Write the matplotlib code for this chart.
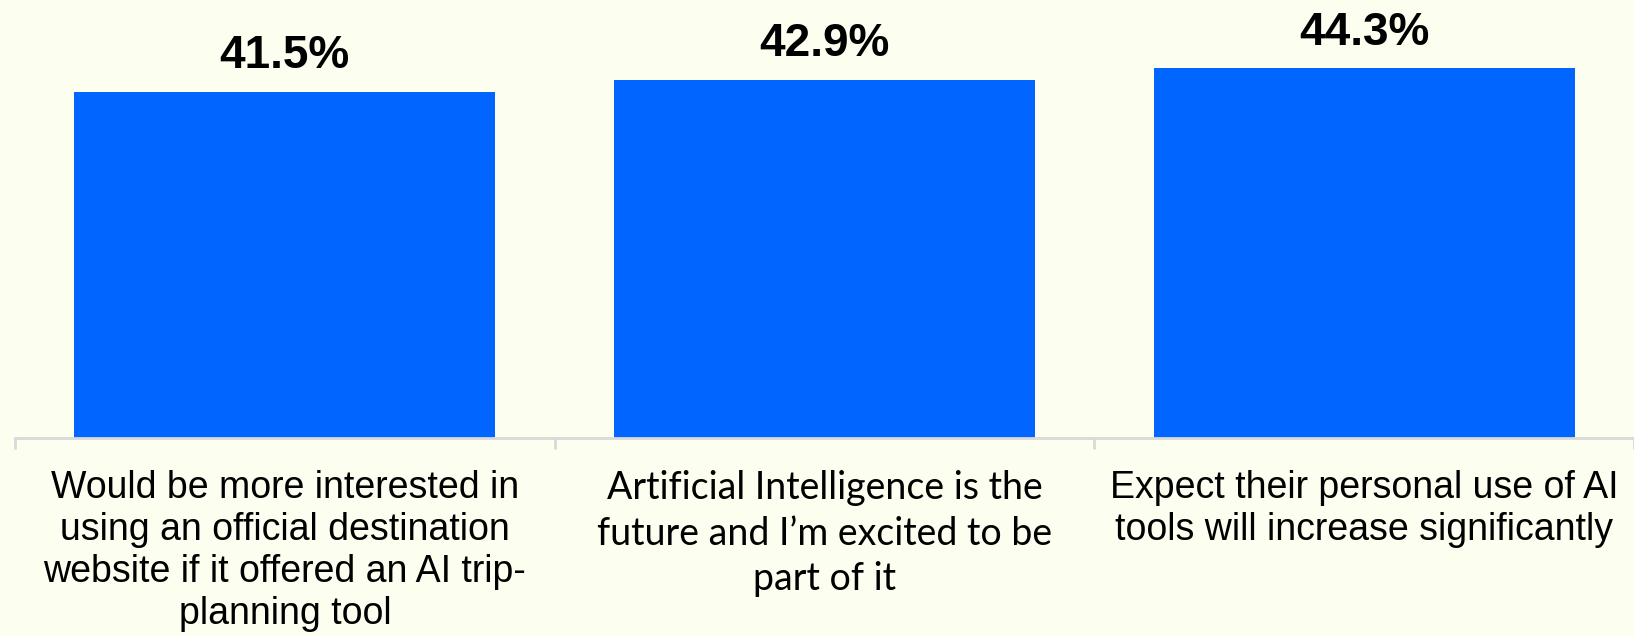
import numpy as np
import matplotlib
matplotlib.use("Agg")
import matplotlib.pyplot as plt

categories = [
    "Would be more interested in\nusing an official destination\nwebsite if it offered an AI trip-\nplanning tool",
    "Artificial Intelligence is the\nfuture and I\u2019m excited to be\npart of it",
    "Expect their personal use of AI\ntools will increase significantly",
]
values = [41.5, 42.9, 44.3]
value_labels = ["41.5%", "42.9%", "44.3%"]

bg = "#FCFFEF"
blue = "#0066FF"

fig = plt.figure(figsize=(16.34, 6.36), dpi=100, facecolor=bg)
ax = fig.add_axes([15 / 1634, 1 - 438 / 636, 1 - 15 / 1634, 438 / 636])
ax.set_facecolor(bg)

x = np.arange(len(values))
ax.bar(x, values, width=0.78, color=blue)
ax.set_xlim(-0.5, len(values) - 0.5)
ax.set_ylim(0, 52.5)

for xi, v, lab in zip(x, values, value_labels):
    ax.annotate(lab, (xi, v), xytext=(0, 10), textcoords="offset points",
                ha="center", va="bottom", fontsize=33, fontweight="bold",
                family="Liberation Sans", color="black")

for s in ["top", "right", "left"]:
    ax.spines[s].set_visible(False)
ax.spines["bottom"].set_color("#D9D9D9")
ax.spines["bottom"].set_linewidth(2)
ax.set_yticks([])

ax.set_xticks(x)
ax.set_xticklabels(categories)
ax.tick_params(axis="x", length=0, pad=23)
ax.set_xticks(np.arange(-0.5, len(values)), minor=True)
ax.tick_params(axis="x", which="minor", length=8, width=2, color="#D9D9D9")
for i, t in enumerate(ax.get_xticklabels()):
    t.set_fontsize(27)
    if i == 1:
        t.set_family("Lato")
        t.set_linespacing(1.33)
    else:
        t.set_family("Liberation Sans")
        t.set_linespacing(1.21)
    t.set_ha("center")
    t.set_multialignment("center")

fig.savefig("out.png", dpi=100, facecolor=bg)
